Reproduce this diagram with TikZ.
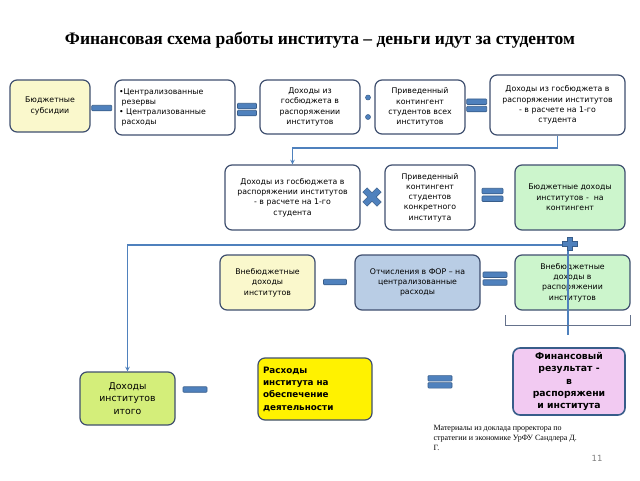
\documentclass[tikz,border=0pt]{standalone}
\usepackage{fontspec}
\setmainfont{Liberation Serif}
\newfontfamily\boxfont{DejaVu Sans}
\usepackage{xcolor}
\usepackage{tikz}
\usetikzlibrary{shapes.geometric, arrows, positioning}

\definecolor{boxline}{HTML}{3F4F6F}
\definecolor{symfill}{HTML}{4F81BD}
\definecolor{symline}{HTML}{385D8A}
\definecolor{linkblue}{HTML}{4F81BD}
\definecolor{paleyellow}{HTML}{FAF8CC}
\definecolor{palegreen}{HTML}{CCF5CC}
\definecolor{paleblue}{HTML}{B9CDE5}
\definecolor{limegreen}{HTML}{D4EE7A}
\definecolor{pinkbox}{HTML}{F2CAF2}

\begin{document}
\begin{tikzpicture}[x=1pt, y=-1pt, every node/.style={font=\boxfont\fontsize{7.8}{10.3}\selectfont}]

\tikzstyle{box} = [rectangle, rounded corners=7pt, draw=boxline, line width=1.2pt, fill=white, text centered, align=center, inner sep=1pt]
\tikzstyle{bar} = [rectangle, rounded corners=0.8pt, draw=symline, fill=symfill, line width=0.6pt, minimum height=5.5pt, inner sep=0pt]
\tikzstyle{dot} = [circle, draw=symline, fill=symfill, line width=0.5pt, minimum size=5pt, inner sep=0pt]
\tikzstyle{link} = [draw=linkblue, line width=1.1pt]
\tikzstyle{arrow} = [link, ->, >=stealth]

\useasboundingbox (0,0) rectangle (640,480);

% Title
\node (title) at (320,40) {\rmfamily\bfseries\fontsize{17.5}{19}\selectfont Финансовая схема работы института – деньги идут за студентом};

% Row 1
\node (subs) [box, fill=paleyellow, minimum width=80pt, minimum height=52pt] at (50,106) {Бюджетные\\субсидии};
\node (centr) [box, minimum width=120pt, minimum height=55pt, align=left, text width=112pt] at (175,107.5) {•Централизованные\\\ резервы\\• Централизованные\\\ расходы};
\node (dohod) [box, minimum width=100pt, minimum height=54pt] at (310,107) {Доходы из\\госбюджета в\\распоряжении\\институтов};
\node (kontall) [box, minimum width=90pt, minimum height=54pt] at (420,107) {Приведенный\\контингент\\студентов всех\\институтов};
\node (perone) [box, minimum width=135pt, minimum height=60pt] at (557.5,105) {Доходы из госбюджета в\\распоряжении институтов\\- в расчете на 1-го\\студента};

% Row 2
\node (pertwo) [box, minimum width=135pt, minimum height=65pt] at (292.5,197.5) {Доходы из госбюджета в\\распоряжении институтов\\- в расчете на 1-го\\студента};
\node (kontone) [box, minimum width=90pt, minimum height=65pt] at (430,197.5) {Приведенный\\контингент\\студентов\\конкретного\\института};
\node (budkont) [box, fill=palegreen, minimum width=110pt, minimum height=65pt] at (570,197.5) {Бюджетные доходы\\институтов -~ на\\контингент};

% Row 3
\node (vneb) [box, fill=paleyellow, minimum width=95pt, minimum height=55pt] at (267.5,282.5) {Внебюджетные\\доходы\\институтов};
\node (otch) [box, fill=paleblue, minimum width=125pt, minimum height=55pt] at (417.5,282.5) {Отчисления в ФОР – на\\централизованные\\расходы};
\node (vnebras) [box, fill=palegreen, minimum width=115pt, minimum height=55pt] at (572.5,282.5) {Внебюджетные\\доходы в\\распоряжении\\институтов};

% Row 4
\node (itogo) [box, fill=limegreen, minimum width=95pt, minimum height=53pt, font=\boxfont\fontsize{9.3}{12.5}\selectfont] at (127.5,398.5) {Доходы\\институтов\\итого};
\node (rashod) [box, fill=yellow, minimum width=114pt, minimum height=62pt, align=left, text width=104pt, font=\boxfont\bfseries\fontsize{8.8}{12.3}\selectfont] at (315,389) {Расходы\\института на\\обеспечение\\деятельности};
\node (finrez) [box, fill=pinkbox, draw=symline, line width=1.6pt, minimum width=112pt, minimum height=67pt, font=\boxfont\bfseries\fontsize{9.3}{12.3}\selectfont] at (569,381.5) {Финансовый\\результат -\\в\\распоряжени\\и института};

% Signs
\node (minusA) [bar, minimum width=20pt] at (101.7,108) {};
\node (eqAtop) [bar, minimum width=19pt] at (247,106) {};
\node (eqAbot) [bar, minimum width=19pt] at (247,113) {};
\node (divtop) [dot] at (368,97.5) {};
\node (divbot) [dot] at (368,117) {};
\node (eqBtop) [bar, minimum width=20pt] at (476.7,101.7) {};
\node (eqBbot) [bar, minimum width=20pt] at (476.7,109) {};
\node (eqCtop) [bar, minimum width=21pt] at (492.5,191) {};
\node (eqCbot) [bar, minimum width=21pt] at (492.5,198.7) {};
\node (minusB) [bar, minimum width=23pt] at (335,282) {};
\node (eqDtop) [bar, minimum width=24pt] at (495,274.7) {};
\node (eqDbot) [bar, minimum width=24pt] at (495,282.5) {};
\node (minusC) [bar, minimum width=24pt] at (195,389.5) {};
\node (eqEtop) [bar, minimum width=24pt] at (440,378.3) {};
\node (eqEbot) [bar, minimum width=24pt] at (440,385.3) {};

% times sign
\filldraw[fill=symfill, draw=symline, line width=0.5pt, rotate around={45:(372,197)}]
  (369,187) -- (375,187) -- (375,194) -- (382,194) -- (382,200) -- (375,200) -- (375,207) -- (369,207) -- (369,200) -- (362,200) -- (362,194) -- (369,194) -- cycle;

% Connectors
\coordinate (turn) at (0,148);
\draw [arrow] (perone.south) -- (perone.south |- turn) -| (pertwo.north);

\coordinate (join) at (568,245);
\coordinate (brace) at (568,335);
\draw [arrow] (join) -| (itogo.north);
\draw [link] (join) -- (brace);

% bracket under the box
\draw [draw=boxline!80, line width=1pt] (505,315) -- (505,325) -- (630,325) -- (630,315);

% plus sign
\filldraw[fill=symfill, draw=symline, line width=0.5pt]
  (567.5,237) -- (572.5,237) -- (572.5,241) -- (577.5,241) -- (577.5,246) -- (572.5,246) -- (572.5,250) -- (567.5,250) -- (567.5,246) -- (562.5,246) -- (562.5,241) -- (567.5,241) -- cycle;

% Source and page number
\node (source) [anchor=north west, align=left, font=\rmfamily\fontsize{8}{9.8}\selectfont] at (430,422) {Материалы из доклада проректора по\\стратегии и экономике УрФУ Сандлера Д.\\Г.};
\node (pagenum) [font=\boxfont\fontsize{8.5}{10}\selectfont, text=gray] at (597,458) {11};

\end{tikzpicture}
\end{document}
